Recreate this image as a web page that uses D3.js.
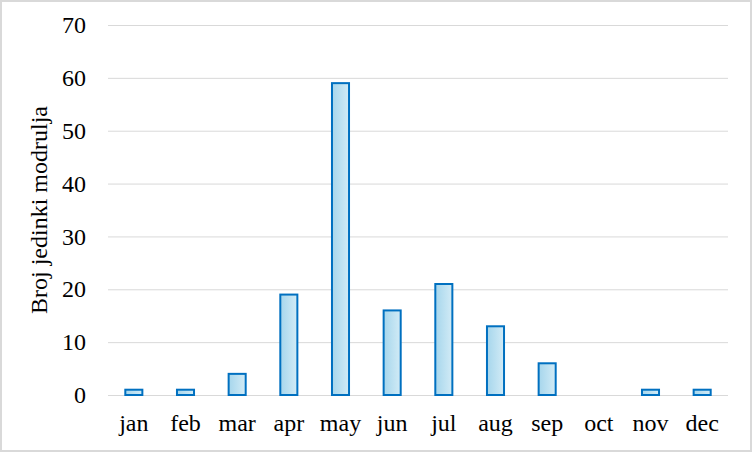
<!DOCTYPE html>
<html><head><meta charset="utf-8">
<script src="https://cdn.jsdelivr.net/npm/d3@7"></script>
<style>body{margin:0;background:#fff}svg{display:block}
svg text{font-family:"Liberation Serif","Times New Roman","DejaVu Serif",serif !important;}
</style>
</head><body>
<svg id="c" width="752" height="452"></svg>
<script>
const months = ["jan","feb","mar","apr","may","jun","jul","aug","sep","oct","nov","dec"];
const counts = [1,1,4,19,59,16,21,13,6,0,1,1];
const yTicks = [0,10,20,30,40,50,60,70];
const yTitle = "Broj jedinki modrulja";

const svg = d3.select("#c");
const W = 752, H = 452;
const m = {left:108, right:24, top:25, bottom:57};

svg.append("rect").attr("x",1).attr("y",1).attr("width",W-2).attr("height",H-2)
  .attr("fill","#fff").attr("stroke","#d9d9d9").attr("stroke-width",2);

const defs = svg.append("defs");
const g1 = defs.append("linearGradient").attr("id","bg").attr("x1","0").attr("x2","1").attr("y1","0").attr("y2","0");
g1.append("stop").attr("offset","0").attr("stop-color","#a6d6ec");
g1.append("stop").attr("offset","1").attr("stop-color","#d2ebf6");

const x = d3.scaleBand().domain(months).range([m.left, W-m.right]).paddingInner(0.67).paddingOuter(0.335);
const y = d3.scaleLinear().domain([0,70]).range([H-m.bottom, m.top]);

const yAxis = svg.append("g").attr("transform",`translate(${m.left},0)`)
  .call(d3.axisLeft(y).tickValues(yTicks).tickSize(-(W-m.left-m.right)).tickPadding(22));
yAxis.select(".domain").remove();
yAxis.selectAll("line").attr("stroke","#d9d9d9").attr("stroke-width",1);
yAxis.selectAll("text").attr("font-size",24).attr("fill","#000");

const xAxis = svg.append("g").attr("transform",`translate(0,${H-m.bottom})`)
  .call(d3.axisBottom(x).tickSize(0).tickPadding(19));
xAxis.select(".domain").remove();
xAxis.selectAll("text").attr("font-size",24).attr("fill","#000");

svg.append("g").selectAll("rect").data(months).join("rect")
  .attr("x", d => x(d))
  .attr("width", x.bandwidth())
  .attr("y", (d,i) => y(counts[i]))
  .attr("height", (d,i) => y(0) - y(counts[i]))
  .attr("fill","url(#bg)")
  .attr("stroke", (d,i) => counts[i] > 0 ? "#0070c0" : "none")
  .attr("stroke-width",2);

svg.append("text")
  .attr("transform",`translate(47,${(m.top + H - m.bottom)/2}) rotate(-90)`)
  .attr("text-anchor","middle")
  .attr("font-size",24).attr("fill","#000")
  .text(yTitle);
</script>
</body></html>
